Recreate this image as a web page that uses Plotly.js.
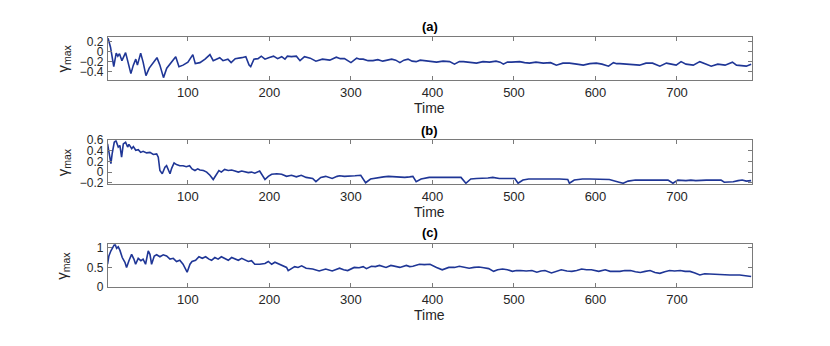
<!DOCTYPE html>
<html>
<head>
<meta charset="utf-8">
<script src="https://cdn.plot.ly/plotly-3.0.1.min.js"></script>
<style>
  body { margin: 0; background: #fff; }
  #chart { width: 830px; height: 346px; }
</style>
</head>
<body>
<div id="chart"></div>
<script>
// panel (a)
var xA = [2,5,9,12,14,16,19,23.5,26,30,33,36,38,42,45,48.5,52.5,56.6,62,65.6,70,74,80,85,89,94,100,106,109,114.7,121,127,131,135,139,143,149,153,158,166,171,175,177,181,186,190,194.5,199,205,210,215,219,222,227,233,237.5,243,250,257,265,274,282,287,292,300,307,311,315,321,327,333,339,345,350,355,360,365,370,375,380,385,389,397,405,413,421,427,433,438,446,454,462,470,478,483,487,492,497,507,513,519,527,536,545,552,560,568,577,585,593,601,608,616,622,626,630,638,646,654,662,670,679,687,693,699,705,711,720,728,736,742,750,759,768,773,779,785,791];
var yA = [0.27,0.09,-0.30,-0.03,-0.09,-0.04,-0.18,-0.02,-0.18,-0.44,-0.27,-0.15,-0.27,-0.03,-0.21,-0.48,-0.33,-0.24,-0.12,-0.27,-0.52,-0.33,-0.21,-0.10,-0.30,-0.27,-0.21,-0.06,-0.24,-0.22,-0.15,-0.06,-0.18,-0.15,-0.12,-0.18,-0.15,-0.22,-0.14,-0.12,-0.10,-0.27,-0.30,-0.15,-0.14,-0.09,-0.15,-0.12,-0.09,-0.14,-0.10,-0.15,-0.09,-0.10,-0.09,-0.18,-0.10,-0.13,-0.19,-0.15,-0.17,-0.11,-0.14,-0.14,-0.22,-0.13,-0.15,-0.15,-0.18,-0.18,-0.16,-0.19,-0.16,-0.15,-0.17,-0.22,-0.17,-0.15,-0.19,-0.20,-0.17,-0.18,-0.20,-0.21,-0.19,-0.20,-0.25,-0.20,-0.20,-0.22,-0.23,-0.20,-0.21,-0.19,-0.21,-0.25,-0.21,-0.21,-0.20,-0.22,-0.23,-0.21,-0.23,-0.22,-0.27,-0.23,-0.23,-0.25,-0.27,-0.24,-0.23,-0.25,-0.29,-0.22,-0.24,-0.24,-0.25,-0.25,-0.27,-0.23,-0.23,-0.29,-0.23,-0.25,-0.27,-0.20,-0.25,-0.27,-0.20,-0.25,-0.29,-0.25,-0.27,-0.21,-0.27,-0.28,-0.29,-0.25];

// panel (b)
var xB = [1.4,3,5.5,7,9.6,11.7,14.5,16.5,18.6,20.7,23.5,26,27.6,31,33,36,39,42,45,49.3,53.4,57.5,61.6,63.6,65.6,68.5,71.8,73.8,76,78,80,83,86,90,94,98,102,105,108.6,112,114.7,119,123,127,131,135,138,141,145,149.5,153.6,157.7,161.8,166,170,174,178,182,188,191,194.5,198.6,202.7,209,215,221,227,233,239,245,253,257,263,269,277,283,286,292,298,305,312,318,324,334,340,346,354,360,366,372,376,380,386,396,403,409,418,425,435,441,447,454,461,468,474,482,491,501,505,511,518,523,532,540,548,556,566,568,574,584,593,605,617,629,634,640,649,656,662,668,674,682,689,695,701,711,717,723,730,736,745,754,758,769,775,780,785,791];
var yB = [0.53,0.41,0.16,0.34,0.56,0.59,0.47,0.50,0.28,0.53,0.56,0.47,0.52,0.44,0.48,0.41,0.42,0.37,0.39,0.36,0.37,0.33,0.34,0.28,0.03,-0.03,0.09,0.12,0.03,-0.03,0.07,0.17,0.14,0.12,0.12,0.10,0.12,0.06,0.03,0.06,0.04,0.03,0.00,-0.06,-0.14,-0.03,0.03,0.00,0.05,0.03,0.04,0.02,0.00,0.02,0.00,-0.01,0.00,-0.02,0.02,-0.06,-0.14,-0.08,-0.04,-0.03,-0.04,-0.08,-0.06,-0.09,-0.06,-0.10,-0.12,-0.18,-0.10,-0.08,-0.12,-0.08,-0.07,-0.08,-0.08,-0.07,-0.06,-0.20,-0.13,-0.10,-0.09,-0.08,-0.09,-0.09,-0.10,-0.09,-0.08,-0.18,-0.13,-0.10,-0.10,-0.10,-0.10,-0.10,-0.10,-0.21,-0.13,-0.12,-0.12,-0.11,-0.10,-0.12,-0.12,-0.12,-0.21,-0.15,-0.13,-0.13,-0.12,-0.12,-0.12,-0.13,-0.14,-0.21,-0.15,-0.13,-0.13,-0.13,-0.14,-0.19,-0.21,-0.17,-0.15,-0.15,-0.15,-0.14,-0.14,-0.15,-0.15,-0.21,-0.15,-0.16,-0.15,-0.16,-0.15,-0.15,-0.15,-0.15,-0.19,-0.18,-0.16,-0.15,-0.17,-0.16];

// panel (c)
var xC = [1.4,3,5.5,8.4,10.4,12.5,14.5,16.6,19.4,22.7,24.7,27.6,30.9,33.7,35.8,39,42.3,45,48,51.3,53.4,55.4,58.7,61.6,65.6,69.7,73.8,78,82,86,90,94,97,99,102.5,105,109.4,113.5,117.6,121.7,125.8,129,133,137,141,145.4,149.5,153.6,157.7,161.8,166,170,174,178,182,188,194.5,198.6,202.7,206.7,213,217,221,223,227,231,235,239.5,245,253,261,269,277,283,286,291,296,304,310,315,319,325,330,335,343,349,355,360,368,372,376,384,390,397,405,412,420,427,433,439,445,451,457,463,469,475,480,486,492,498,503,508,515,522,528,533,538,546,552,558,565,571,577,583,589,595,604,612,618,624,630,636,643,649,655,661,667,673,679,685,691,697,704,710,716,722,728,734,741,747,753,765,777,783,791];
var yC = [0.58,0.79,0.92,1.04,1.10,0.98,1.02,0.93,0.75,0.63,0.50,0.67,0.83,0.71,0.58,0.73,0.67,0.71,0.58,0.92,0.83,0.58,0.79,0.82,0.77,0.82,0.79,0.71,0.73,0.65,0.68,0.58,0.46,0.38,0.58,0.65,0.68,0.77,0.73,0.77,0.71,0.68,0.75,0.71,0.77,0.73,0.68,0.75,0.71,0.68,0.73,0.68,0.65,0.67,0.58,0.58,0.60,0.65,0.58,0.63,0.58,0.54,0.50,0.42,0.46,0.52,0.50,0.54,0.48,0.46,0.41,0.46,0.41,0.45,0.48,0.44,0.42,0.50,0.49,0.52,0.47,0.53,0.52,0.55,0.50,0.55,0.52,0.50,0.55,0.52,0.53,0.58,0.57,0.58,0.50,0.44,0.50,0.50,0.53,0.51,0.48,0.50,0.51,0.49,0.47,0.40,0.44,0.46,0.44,0.40,0.42,0.42,0.41,0.42,0.38,0.41,0.42,0.36,0.41,0.44,0.41,0.40,0.42,0.46,0.44,0.44,0.40,0.44,0.40,0.40,0.40,0.42,0.42,0.39,0.37,0.40,0.42,0.37,0.35,0.39,0.42,0.41,0.42,0.40,0.40,0.36,0.31,0.34,0.33,0.33,0.31,0.31,0.31,0.30,0.27];

var panelTitles = ['(a)', '(b)', '(c)'];
var xTicks = [100, 200, 300, 400, 500, 600, 700];
var yTicksA = [-0.4, -0.2, 0, 0.2];
var yTicksB = [-0.2, 0, 0.2, 0.4, 0.6];
var yTicksC = [0, 0.5, 1];

var lineColor = '#1f3696';
var axisColor = '#7a7a7a';
var font = 'Liberation Sans, Arial, sans-serif';

function trace(x, y, n) {
  return {
    x: x, y: y, type: 'scatter', mode: 'lines',
    xaxis: 'x' + (n === 1 ? '' : n), yaxis: 'y' + (n === 1 ? '' : n),
    line: { color: lineColor, width: 1.6 },
    hoverinfo: 'skip'
  };
}

function xax(dom) {
  return {
    domain: [0.130, 0.906], anchor: dom, range: [1.8, 792],
    tickvals: xTicks, ticks: 'inside', ticklen: 4, tickcolor: axisColor,
    showline: true, linecolor: axisColor, linewidth: 1, mirror: 'ticks',
    showgrid: false, zeroline: false,
    tickfont: { family: font, size: 13, color: '#262626' }
  };
}

function yax(dom, range, ticks, xa) {
  return {
    domain: dom, anchor: xa, range: range,
    tickvals: ticks, ticks: 'inside', ticklen: 4, tickcolor: axisColor,
    showline: true, linecolor: axisColor, linewidth: 1, mirror: 'ticks',
    showgrid: false, zeroline: false, ticklabelstandoff: 1,
    tickfont: { family: font, size: 12, color: '#262626' }
  };
}

var data = [trace(xA, yA, 1), trace(xB, yB, 2), trace(xC, yC, 3)];

var titleY = [0.922, 0.624, 0.327];
var timeY = [0.688, 0.387, 0.090];
var panelMidY = [0.831, 0.531, 0.232];

var annotations = [];
for (var i = 0; i < 3; i++) {
  annotations.push({
    text: '<b>' + panelTitles[i] + '</b>', xref: 'paper', yref: 'paper',
    x: 0.518, y: titleY[i], showarrow: false, xanchor: 'center', yanchor: 'middle',
    font: { family: font, size: 13, color: '#000' }
  });
  annotations.push({
    text: 'Time', xref: 'paper', yref: 'paper',
    x: 0.518, y: timeY[i], showarrow: false, xanchor: 'center', yanchor: 'middle',
    font: { family: font, size: 14, color: '#262626' }
  });
  annotations.push({
    text: 'γ<sub>max</sub>', xref: 'paper', yref: 'paper', textangle: -90,
    x: 0.076, y: panelMidY[i], showarrow: false, xanchor: 'center', yanchor: 'middle',
    font: { family: font, size: 15, color: '#262626' }
  });
}

var layout = {
  width: 830, height: 346,
  margin: { l: 0, r: 0, t: 0, b: 0 },
  paper_bgcolor: '#fff', plot_bgcolor: '#fff',
  showlegend: false,
  xaxis: xax('y'),
  yaxis: yax([0.769, 0.894], [-0.566, 0.3], yTicksA, 'x'),
  xaxis2: xax('y2'),
  yaxis2: yax([0.468, 0.595], [-0.225, 0.6], yTicksB, 'x2'),
  xaxis3: xax('y3'),
  yaxis3: yax([0.170, 0.294], [0, 1.085], yTicksC, 'x3'),
  annotations: annotations
};

Plotly.newPlot('chart', data, layout, { displayModeBar: false, staticPlot: true });
</script>
</body>
</html>
